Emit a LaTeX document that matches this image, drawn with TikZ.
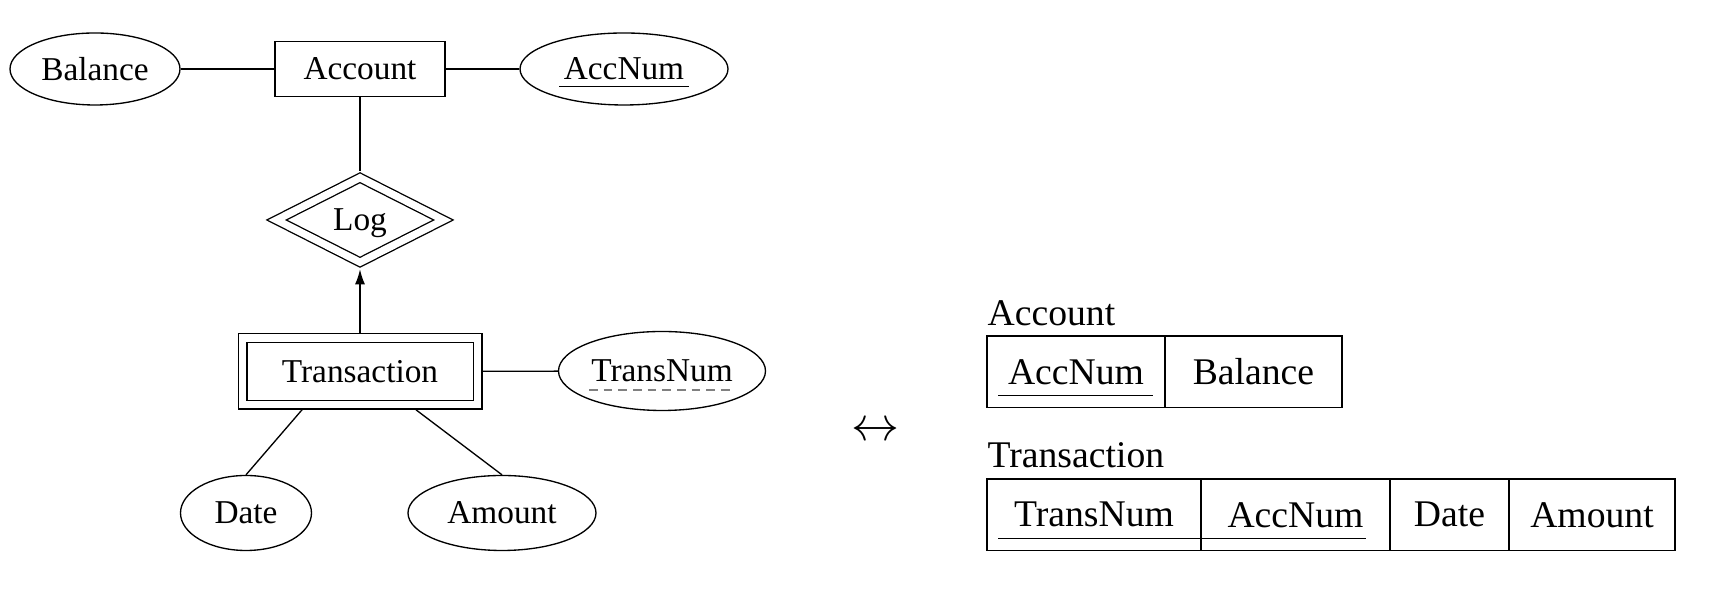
\documentclass[tikz,border=0pt]{standalone}
\usepackage{fontspec}
\setmainfont{Liberation Serif}
\usetikzlibrary{shapes.geometric, arrows.meta, positioning}

\begin{document}
\begin{tikzpicture}[
    x=0.3pt, y=-0.3pt,
    entity/.style={rectangle, draw, minimum width=51pt, minimum height=16.5pt},
    weakentity/.style={rectangle, draw, double, double distance=2.2pt, outer sep=1.5pt, minimum width=70.5pt, minimum height=20pt},
    attr/.style={ellipse, draw, inner sep=0pt, minimum height=21.6pt},
    weakrel/.style={diamond, draw, double, double distance=2.2pt, outer sep=1.5pt, inner sep=0pt, text depth=0pt, aspect=2, minimum width=51.3pt, minimum height=26.6pt},
    arrow/.style={-{Latex[length=4.5pt,width=3pt]}},
    cell/.style={rectangle, draw, outer sep=0pt, inner sep=0pt, minimum height=21.5pt, font=\fontsize{11.3}{13}\selectfont},
    title/.style={font=\fontsize{11.3}{13}\selectfont, inner sep=0pt, anchor=base west}
  ]
    \useasboundingbox (0,0) rectangle (1718,604);

    % ER diagram
    \node (account) [entity] at (360,69) {Account};
    \node (balance) [attr, minimum width=51pt] at (95,69) {Balance};
    \node (accnum) [attr, minimum width=62.4pt] at (624,69) {AccNum};
    \node (log) [weakrel] at (360,220) {Log};
    \node (trans) [weakentity] at (360,371.5) {Transaction};
    \node (transnum) [attr, minimum width=62.1pt, minimum height=23.7pt] at (662,371) {TransNum};
    \node (date) [attr, minimum width=39.3pt, minimum height=22.5pt] at (246,513) {Date};
    \node (amount) [attr, minimum width=56.4pt, minimum height=22.5pt] at (502,513) {Amount};

    % keys
    \draw ([xshift=-19.5pt,yshift=-5.2pt]accnum.center) -- ([xshift=19.5pt,yshift=-5.2pt]accnum.center);
    \draw [gray, dash pattern=on 2.6pt off 1.8pt] ([xshift=-21.9pt,yshift=-5.7pt]transnum.center) -- ([xshift=21.9pt,yshift=-5.7pt]transnum.center);

    % Connections
    \draw (balance) -- (account);
    \draw (account) -- (accnum);
    \draw (account) -- (log);
    \draw [arrow] (trans) -- (log);
    \draw (trans) -- (transnum);
    \draw ([xshift=-17.4pt]trans.south) -- (date.north);
    \draw ([xshift=16.8pt]trans.south) -- (amount.north);

    \node (maps) at (875,432) {\fontsize{14.5}{16}\selectfont$\leftrightarrow$};

    % Relations
    \node (acclabel) [title] at (987,326) {Account};
    \node (acc1) [cell, minimum width=53.4pt, anchor=north west] at (987,336) {AccNum};
    \node (acc2) [cell, minimum width=53.1pt, right=0pt of acc1] {Balance};
    \draw ([shift={(3.3pt,3.6pt)}]acc1.south west) -- ([shift={(-3.6pt,3.6pt)}]acc1.south east);

    \node (translabel) [title] at (987,468) {Transaction};
    \node (tr1) [cell, minimum width=64.2pt, anchor=north west] at (987,479) {TransNum};
    \node (tr2) [cell, minimum width=56.7pt, right=0pt of tr1] {AccNum};
    \node (tr3) [cell, minimum width=35.7pt, right=0pt of tr2] {Date};
    \node (tr4) [cell, minimum width=49.8pt, right=0pt of tr3] {Amount};
    \draw ([shift={(3.3pt,3.6pt)}]tr1.south west) -- ([shift={(-7.2pt,3.6pt)}]tr2.south east);

\end{tikzpicture}
\end{document}
